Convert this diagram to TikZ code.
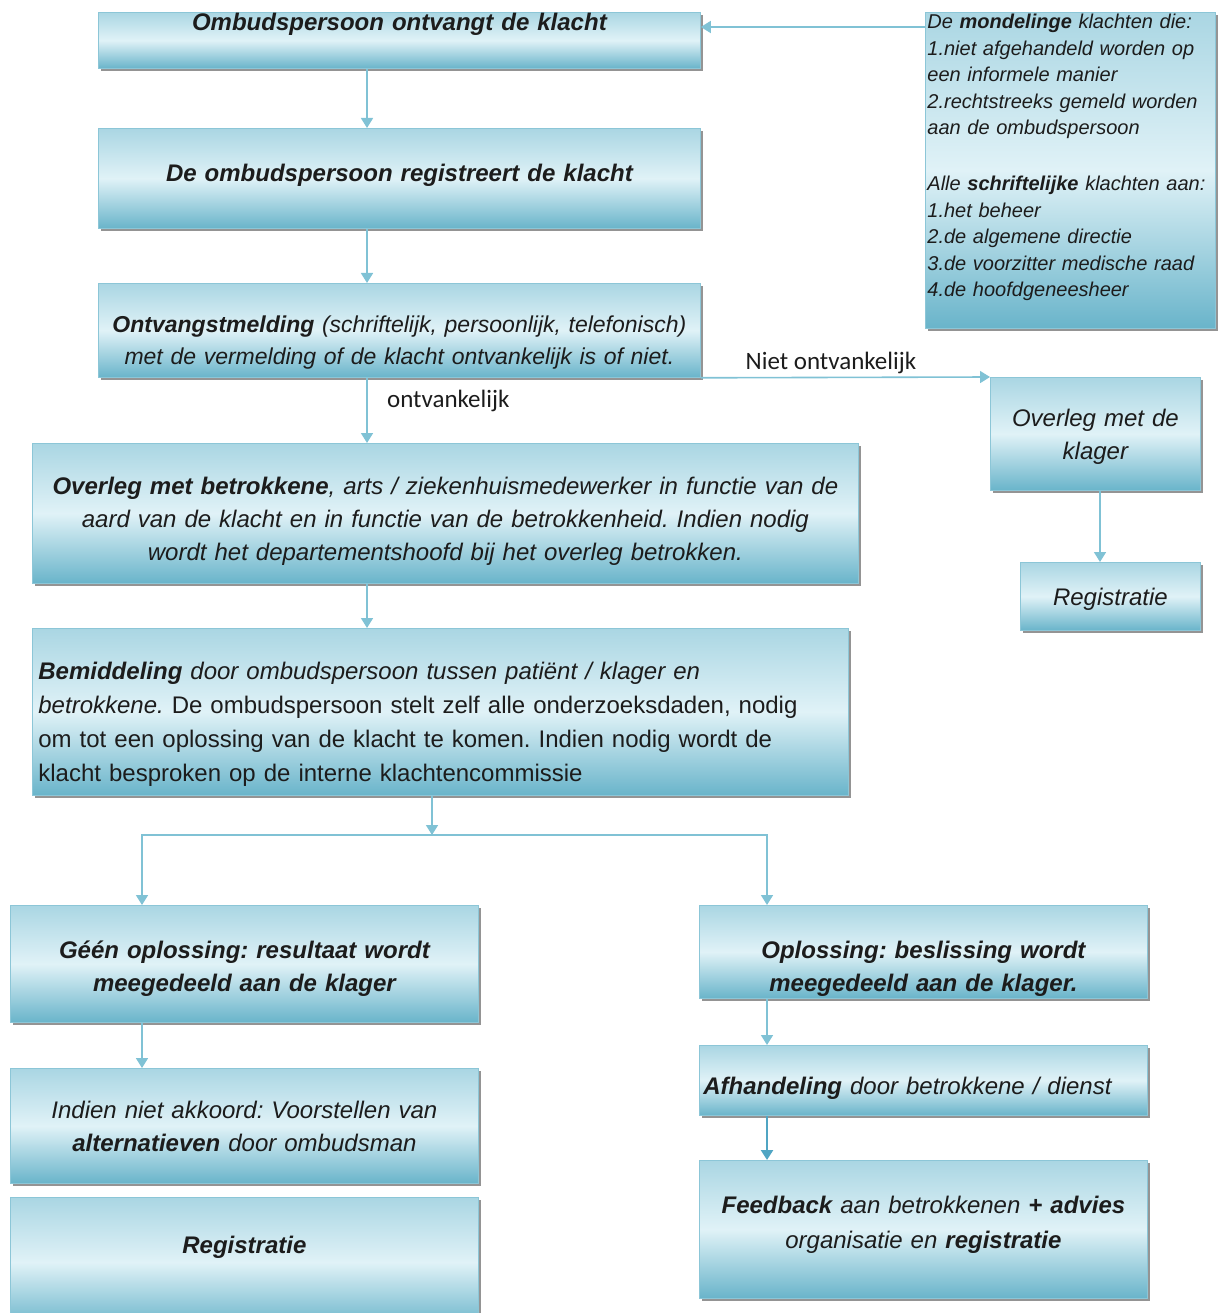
\documentclass[tikz,border=0pt]{standalone}
\usepackage{fontspec}
\setmainfont{Liberation Sans}
\newfontfamily\labfont{Carlito}
\usetikzlibrary{arrows.meta,shadows,calc}
\definecolor{boxdark}{RGB}{105,180,202}
\definecolor{boxtop}{RGB}{170,214,227}
\definecolor{boxmid}{RGB}{224,242,247}
\definecolor{boxline}{RGB}{140,198,215}
\definecolor{arrcol}{RGB}{128,194,213}
\definecolor{arrdark}{RGB}{80,165,195}
\definecolor{txt}{RGB}{28,28,28}
\frenchspacing
\begin{document}
\frenchspacing
\begin{tikzpicture}[x=1pt,y=-1pt,
  box/.style={draw=boxline, line width=0.8pt, top color=boxtop, bottom color=boxdark, middle color=boxmid,
    drop shadow={shadow xshift=3pt, shadow yshift=-3pt, fill=black!60, opacity=0.7},
    anchor=north west, inner xsep=4pt, inner ysep=2pt, align=center, text=txt,
    font=\fontsize{24}{33}\selectfont\itshape\frenchspacing},
  bold/.style={font=\fontsize{24}{33}\selectfont\bfseries\itshape\frenchspacing},
  tdown/.style={execute at end node={\endgraf\vspace*{-#1}}},
  tup/.style={execute at end node={\endgraf\vspace*{#1}}},
  arr/.style={draw=arrcol, line width=1.6pt, -{Triangle[width=12pt,length=10pt]}},
  lab/.style={font=\labfont\fontsize{25}{30}\selectfont, text=txt}]
\useasboundingbox (0,0) rectangle (1222,1313);

% boxes
\node[box, bold, minimum width=602pt, minimum height=56pt, text width=594pt, inner ysep=0pt, tup=32pt] (b1) at (98,12) {Ombudspersoon ontvangt de klacht};
\node[box, bold, minimum width=602pt, minimum height=100pt, text width=594pt, tup=6pt] (b2) at (98,128) {De ombudspersoon registreert de klacht};
\node[box, minimum width=602pt, minimum height=94pt, text width=594pt, tdown=24pt, font=\fontsize{23}{32}\selectfont\itshape\frenchspacing] (b3) at (98,283)
  {{\bfseries Ontvangstmelding} (schriftelijk, persoonlijk, telefonisch)\\ met de vermelding of de klacht ontvankelijk is of niet.};
\node[box, minimum width=826pt, minimum height=140pt, text width=818pt, tdown=16pt] (b4) at (32,443)
  {{\bfseries Overleg met betrokkene}, arts / ziekenhuismedewerker in functie van de\\ aard van de klacht en in functie van de betrokkenheid. Indien nodig\\ wordt het departementshoofd bij het overleg betrokken.};
\node[box, align=left, minimum width=816pt, minimum height=167pt, text width=804pt, inner xsep=6pt, tdown=25pt, font=\fontsize{24}{34}\selectfont\itshape\frenchspacing] (b5) at (32,628)
  {{\bfseries Bemiddeling} door ombudspersoon tussen patiënt / klager en\\ betrokkene. {\upshape De ombudspersoon stelt zelf alle onderzoeksdaden, nodig\\ om tot een oplossing van de klacht te komen. Indien nodig wordt de\\ klacht besproken op de interne klachtencommissie}};
\node[box, bold, minimum width=468pt, minimum height=117pt, text width=460pt, tdown=10pt] (b6) at (10,905)
  {Géén oplossing: resultaat wordt\\ meegedeeld aan de klager};
\node[box, minimum width=468pt, minimum height=115pt, text width=460pt, tdown=2pt] (b7) at (10,1068)
  {Indien niet akkoord: Voorstellen van\\ {\bfseries alternatieven} door ombudsman};
\node[box, bold, minimum width=468pt, minimum height=130pt, text width=460pt, tup=30pt] (b8) at (10,1197) {Registratie};
\node[box, bold, minimum width=448pt, minimum height=93pt, text width=440pt, tdown=34pt] (b9) at (699,905)
  {Oplossing: beslissing wordt\\ meegedeeld aan de klager.};
\node[box, align=left, minimum width=448pt, minimum height=70pt, text width=440pt, text height=34pt, text depth=5pt] (b10) at (699,1045)
  {{\bfseries Afhandeling} door betrokkene / dienst};
\node[box, minimum width=448pt, minimum height=138pt, text width=440pt, tup=10pt, font=\fontsize{24}{35}\selectfont\itshape\frenchspacing] (b11) at (699,1160)
  {{\bfseries Feedback} aan betrokkenen {\bfseries + advies}\\ organisatie en {\bfseries registratie}};
\node[box, align=left, minimum width=290pt, minimum height=316pt, text width=286pt, inner xsep=2pt, inner ysep=1pt, tup=26pt, font=\fontsize{20}{26.5}\selectfont\itshape] (rbox) at (925,12)
  {De {\bfseries mondelinge} klachten die:\\
   1.niet afgehandeld worden op\\
   een informele manier\\
   2.rechtstreeks gemeld worden\\
   aan de ombudspersoon\\[29.5pt]
   Alle {\bfseries schriftelijke} klachten aan:\\
   1.het beheer\\
   2.de algemene directie\\
   3.de voorzitter medische raad\\
   4.de hoofdgeneesheer};
\node[box, minimum width=210pt, minimum height=113pt, text width=202pt, tdown=6pt] (klager) at (990,377) {Overleg met de\\ klager};
\node[box, minimum width=180pt, minimum height=68pt, text width=172pt, tdown=18pt] (kreg) at (1020,562) {Registratie};

% connectors
\draw[arr] ($(rbox.north west)+(0,15)$) -- ($(b1.north east)+(0,15)$);
\draw[arr] ($(b1.south west)+(269,0)$) -- ($(b2.north west)+(269,0)$);
\draw[arr] ($(b2.south west)+(269,0)$) -- ($(b3.north west)+(269,0)$);
\draw[arr] ($(b3.south west)+(269,0)$) -- node[lab, right=16pt, pos=0.35] (lont) {ontvankelijk} ($(b4.north west)+(335,0)$);
\draw[arr] (b3.south east) -- node[lab, above=0pt, pos=0.45] (lniet) {Niet ontvankelijk} (klager.north west);
\draw[arr] ($(klager.south west)+(110,0)$) -- ($(kreg.north west)+(80,0)$);
\draw[arr] ($(b4.south west)+(335,0)$) -- ($(b5.north west)+(335,0)$);
\coordinate (split) at (432,835);
\draw[arr] ($(b5.south west)+(400,0)$) -- (split);
\draw[arr] (split) -| ($(b6.north west)+(132,0)$);
\draw[arr] (split) -| ($(b9.north west)+(68,0)$);
\draw[arr] ($(b6.south west)+(132,0)$) -- ($(b7.north west)+(132,0)$);
\draw[arr] ($(b9.south west)+(68,0)$) -- ($(b10.north west)+(68,0)$);
\draw[arr, draw=arrdark, line width=2.4pt] ($(b10.south west)+(68,0)$) -- ($(b11.north west)+(68,0)$);
\end{tikzpicture}
\end{document}
